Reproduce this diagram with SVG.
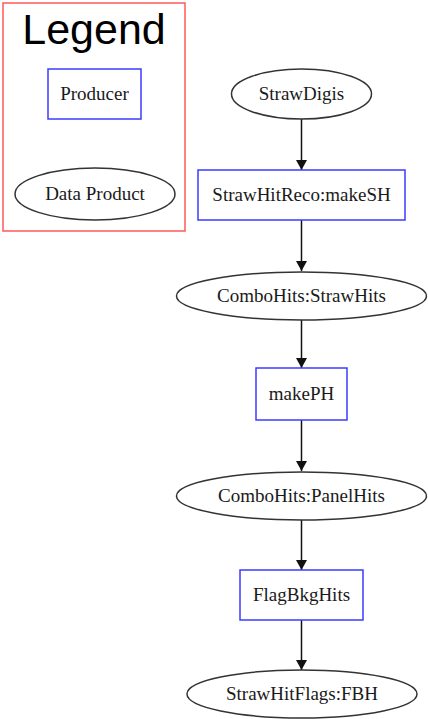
<svg xmlns="http://www.w3.org/2000/svg" width="428" height="719" viewBox="0 0 428 719">
<style>
.bg{fill:#ffffff}
.prod{fill:#ffffff;stroke:#3b3bff;stroke-width:1.5}
.data{fill:#ffffff;stroke:#333333;stroke-width:1.5}
.lbl{font-family:"Liberation Serif","Times New Roman",serif;font-size:19px;fill:#1a1a1a;text-anchor:middle}
.edge{stroke:#111111;stroke-width:1.5;fill:none}
</style>
<defs>
<marker id="arr" viewBox="0 0 10 10" refX="10" refY="5" markerWidth="10" markerHeight="11" markerUnits="userSpaceOnUse" orient="auto" preserveAspectRatio="none">
<path d="M0,0 L10,5 L0,10 Z" fill="#111111"/>
</marker>
</defs>
<rect class="bg" x="0" y="0" width="428" height="719"/>
<g id="legend">
<rect x="3" y="3" width="182" height="228" fill="none" stroke="#ff5a5a" stroke-width="1.5"/>
<text x="94" y="44" font-family="Liberation Sans, Arial, sans-serif" font-size="43" text-anchor="middle" fill="#000000">Legend</text>
</g>
<g id="legend-producer">
<rect class="prod" x="48" y="69" width="93" height="50"/>
<text class="lbl" x="94.5" y="100">Producer</text>
</g>
<g id="legend-dataproduct">
<ellipse class="data" cx="95" cy="194" rx="80" ry="26"/>
<text class="lbl" x="95" y="200">Data Product</text>
</g>
<g id="edges">
<line class="edge" x1="301.5" y1="119" x2="301.5" y2="170" marker-end="url(#arr)"/>
<line class="edge" x1="301.5" y1="220" x2="301.5" y2="271" marker-end="url(#arr)"/>
<line class="edge" x1="301.5" y1="320" x2="301.5" y2="368" marker-end="url(#arr)"/>
<line class="edge" x1="301.5" y1="420" x2="301.5" y2="471" marker-end="url(#arr)"/>
<line class="edge" x1="301.5" y1="520" x2="301.5" y2="570" marker-end="url(#arr)"/>
<line class="edge" x1="301.5" y1="620" x2="301.5" y2="670" marker-end="url(#arr)"/>
</g>
<g id="StrawDigis">
<ellipse class="data" cx="301.5" cy="94" rx="70" ry="25"/>
<text class="lbl" x="301.5" y="100">StrawDigis</text>
</g>
<g id="makeSH">
<rect class="prod" x="198" y="170" width="207" height="50"/>
<text class="lbl" x="301.5" y="201">StrawHitReco:makeSH</text>
</g>
<g id="StrawHits">
<ellipse class="data" cx="301.5" cy="296" rx="125" ry="24"/>
<text class="lbl" x="301.5" y="302">ComboHits:StrawHits</text>
</g>
<g id="makePH">
<rect class="prod" x="256" y="368" width="91" height="52"/>
<text class="lbl" x="301.5" y="400">makePH</text>
</g>
<g id="PanelHits">
<ellipse class="data" cx="301.5" cy="496" rx="125" ry="24"/>
<text class="lbl" x="301.5" y="502">ComboHits:PanelHits</text>
</g>
<g id="FlagBkgHits">
<rect class="prod" x="240" y="570" width="123" height="50"/>
<text class="lbl" x="301.5" y="601">FlagBkgHits</text>
</g>
<g id="FBH">
<ellipse class="data" cx="302" cy="694" rx="115" ry="24"/>
<text class="lbl" x="302" y="700">StrawHitFlags:FBH</text>
</g>
</svg>
